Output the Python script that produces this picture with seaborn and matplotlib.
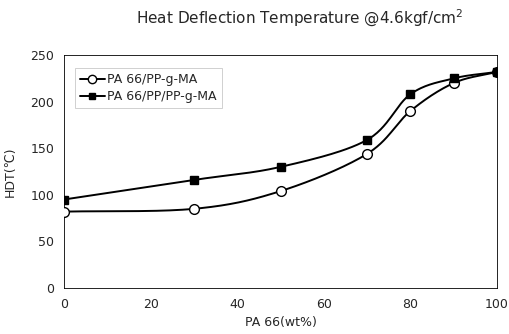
import numpy as np
import pandas as pd
import matplotlib
matplotlib.use("Agg")
import matplotlib.pyplot as plt
import seaborn as sns

pa66 = [0, 30, 50, 70, 80, 90, 100]
hdt_pp_g_ma = [82, 85, 104, 144, 190, 220, 232]
hdt_pp_pp_g_ma = [95, 116, 130, 159, 208, 225, 232]
series_names = ["PA 66/PP-g-MA", "PA 66/PP/PP-g-MA"]


def smooth(x, y, n=30):
    # Catmull-Rom curve through the points (Excel-style smoothed line)
    x = np.asarray(x, float)
    y = np.asarray(y, float)
    px = np.concatenate([[2 * x[0] - x[1]], x, [2 * x[-1] - x[-2]]])
    py = np.concatenate([[2 * y[0] - y[1]], y, [2 * y[-1] - y[-2]]])
    xs, ys = [], []
    t = np.linspace(0, 1, n)
    for i in range(1, len(px) - 2):
        for p, out in ((px, xs), (py, ys)):
            p0, p1, p2, p3 = p[i - 1], p[i], p[i + 1], p[i + 2]
            out.append(0.5 * (2 * p1 + (-p0 + p2) * t
                              + (2 * p0 - 5 * p1 + 4 * p2 - p3) * t ** 2
                              + (-p0 + 3 * p1 - 3 * p2 + p3) * t ** 3))
    return np.concatenate(xs), np.concatenate(ys)


sns.set_style("white")
plt.rcParams["font.family"] = ["DejaVu Sans"]

fig = plt.figure(figsize=(5.1, 3.34), dpi=100)
ax = fig.add_axes([0.1255, 0.1377, 0.849, 0.6973])

styles = [dict(marker="o", mfc="white", ms=7), dict(marker="s", mfc="black", ms=6)]
for name, vals, st in zip(series_names, [hdt_pp_g_ma, hdt_pp_pp_g_ma], styles):
    sx, sy = smooth(pa66, vals)
    sns.lineplot(x=sx, y=sy, ax=ax, color="black", lw=1.4, sort=False)
    ax.plot(pa66, vals, linestyle="none", marker=st["marker"], mfc=st["mfc"],
            mec="black", mew=1.0, ms=st["ms"], zorder=3)
    ax.plot([], [], color="black", lw=1.4, marker=st["marker"], mfc=st["mfc"],
            mec="black", ms=st["ms"] - 1, label=name)

ax.set_xlim(0, 100)
ax.set_ylim(0, 250)
ax.set_xticks(range(0, 101, 20))
ax.set_yticks(range(0, 251, 50))
ax.tick_params(length=0, labelsize=9, pad=7)
ax.set_xlabel("PA 66(wt%)", fontsize=9, labelpad=4)
ax.set_ylabel("HDT(℃)", fontsize=9, labelpad=10)
for s in ax.spines.values():
    s.set_color("black")
    s.set_linewidth(0.6)

leg = ax.legend(loc="upper left", bbox_to_anchor=(0.01, 0.97), fontsize=9,
                frameon=True, fancybox=False, handlelength=2.0,
                handletextpad=0.2, borderpad=0.4, labelspacing=0.3)
leg.get_frame().set_edgecolor("#bbbbbb")
leg.get_frame().set_linewidth(0.6)

fig.text(0.588, 0.946, "Heat Deflection Temperature @4.6kgf/cm$^2$",
         ha="center", va="center", fontsize=11)

fig.savefig("out.png", dpi=100)
